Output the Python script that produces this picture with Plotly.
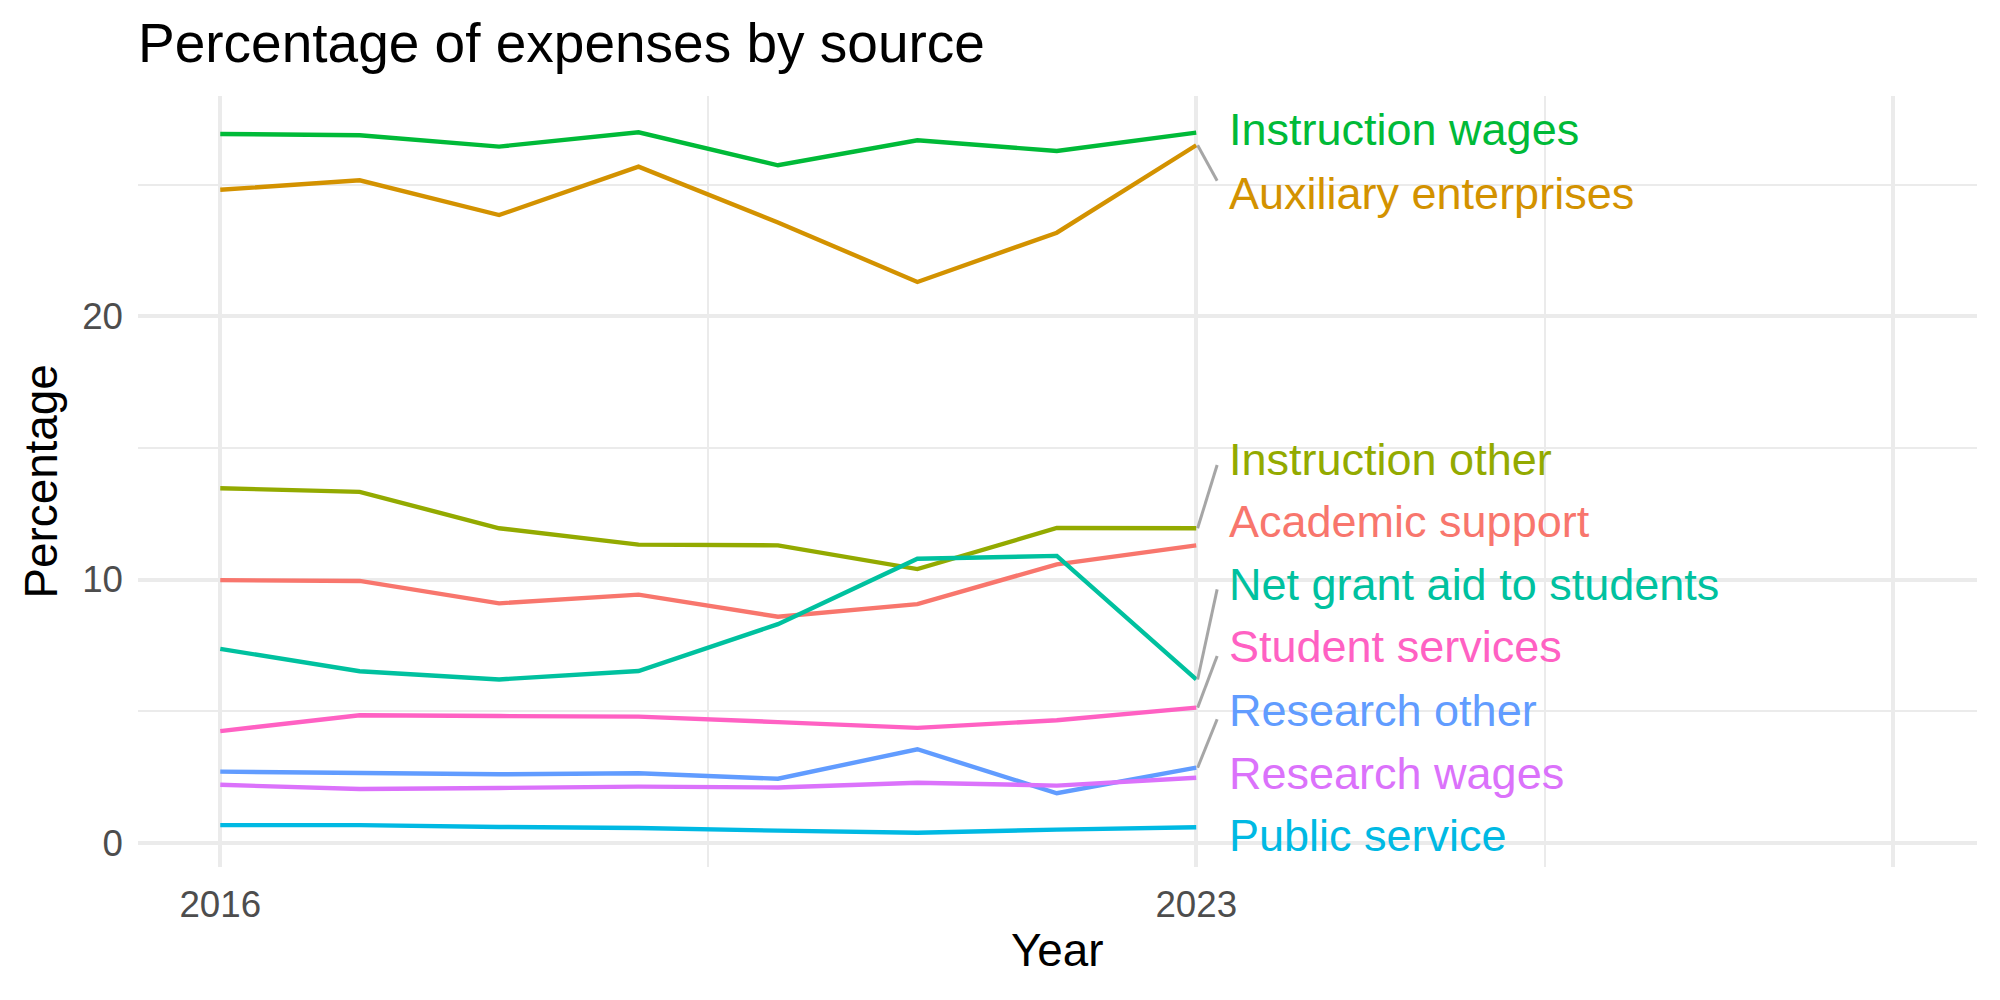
import plotly.graph_objects as go

years = [2016, 2017, 2018, 2019, 2020, 2021, 2022, 2023]

series_names = [
    "Instruction wages", "Auxiliary enterprises", "Instruction other",
    "Academic support", "Net grant aid to students", "Student services",
    "Research other", "Research wages", "Public service",
]
instruction_wages = [26.92, 26.87, 26.44, 26.98, 25.73, 26.68, 26.27, 26.97]
auxiliary_enterprises = [24.80, 25.16, 23.84, 25.68, 23.56, 21.30, 23.17, 26.49]
instruction_other = [13.47, 13.33, 11.95, 11.33, 11.30, 10.40, 11.96, 11.95]
academic_support = [9.98, 9.95, 9.10, 9.43, 8.59, 9.07, 10.58, 11.30]
net_grant_aid = [7.37, 6.52, 6.21, 6.53, 8.31, 10.79, 10.90, 6.21]
student_services = [4.25, 4.85, 4.82, 4.80, 4.59, 4.37, 4.66, 5.14]
research_other = [2.71, 2.68, 2.61, 2.65, 2.44, 3.56, 1.89, 2.86]
research_wages = [2.21, 2.05, 2.09, 2.14, 2.11, 2.29, 2.18, 2.48]
public_service = [0.68, 0.68, 0.61, 0.57, 0.47, 0.39, 0.51, 0.60]

series_values = [
    instruction_wages, auxiliary_enterprises, instruction_other,
    academic_support, net_grant_aid, student_services,
    research_other, research_wages, public_service,
]
series_colors = [
    "#00BA38", "#D39200", "#93AA00", "#F8766D", "#00C19F",
    "#FF61C3", "#619CFF", "#DB72FB", "#00B9E3",
]

# repelled label positions (y, data units) and connector end y (None = no connector)
label_y = [27.08, 24.67, 14.57, 12.20, 9.81, 7.45, 5.04, 2.65, 0.27]
connector_end_y = [None, 25.14, 14.35, None, 9.63, 7.10, 4.70, None, None]
label_x = 2023.22
connector_end_x = 2023.15

x_tick_vals = [2016, 2023, 2028]
x_tick_text = ["2016", "2023", ""]
x_minor_vals = [2019.5, 2025.5]
y_tick_vals = [0, 10, 20]
y_tick_text = ["0", "10", "20"]
y_minor_vals = [5, 15, 25]

FONT = "Liberation Sans, Arial, Helvetica, sans-serif"

fig = go.Figure()

for name, vals, col in zip(series_names, series_values, series_colors):
    fig.add_trace(go.Scatter(
        x=years, y=vals, mode="lines", name=name,
        line=dict(color=col, width=4.4), showlegend=False,
        hoverinfo="skip",
    ))

# connector segments
for vals, ey in zip(series_values, connector_end_y):
    if ey is None:
        continue
    fig.add_trace(go.Scatter(
        x=[years[-1] + 0.01, connector_end_x], y=[vals[-1], ey], mode="lines",
        line=dict(color="#A6A6A6", width=3), showlegend=False, hoverinfo="skip",
    ))

for name, ly, col in zip(series_names, label_y, series_colors):
    fig.add_annotation(
        x=label_x, y=ly, xref="x", yref="y", text=name, showarrow=False,
        xanchor="left", yanchor="middle",
        font=dict(family=FONT, size=45, color=col),
    )

# axis titles
fig.add_annotation(
    x=0.5, y=-(950 - 867) / 771, xref="paper", yref="paper", text="Year",
    showarrow=False, xanchor="center", yanchor="middle",
    font=dict(family=FONT, size=45.8, color="#000000"),
)
fig.add_annotation(
    x=-(138 - 41) / 1839, y=0.5, xref="paper", yref="paper", text="Percentage",
    showarrow=False, xanchor="center", yanchor="middle", textangle=-90,
    font=dict(family=FONT, size=45.8, color="#000000"),
)

fig.update_layout(
    width=2000, height=1000,
    margin=dict(l=138, r=23, t=96, b=133, pad=0),
    paper_bgcolor="white", plot_bgcolor="white",
    font=dict(family=FONT),
    title=dict(
        text="Percentage of expenses by source",
        x=0.0, xref="paper", xanchor="left",
        y=1 - 43 / 1000, yref="container", yanchor="middle",
        font=dict(family=FONT, size=55, color="#000000"),
    ),
    xaxis=dict(
        range=[2015.41, 2028.6], tickmode="array", tickvals=x_tick_vals,
        ticktext=x_tick_text, showgrid=True, gridcolor="#EBEBEB", gridwidth=4.4,
        zeroline=False, showline=False, ticks="",
        tickfont=dict(family=FONT, size=36.7, color="#4D4D4D"),
        ticklabelstandoff=12,
        minor=dict(tickmode="array", tickvals=x_minor_vals, showgrid=True,
                   gridcolor="#EBEBEB", gridwidth=2.2, ticks=""),
    ),
    yaxis=dict(
        range=[-0.91, 28.36], tickmode="array", tickvals=y_tick_vals,
        ticktext=y_tick_text, showgrid=True, gridcolor="#EBEBEB", gridwidth=4.4,
        zeroline=False, showline=False, ticks="",
        tickfont=dict(family=FONT, size=36.7, color="#4D4D4D"),
        ticklabelstandoff=14,
        minor=dict(tickmode="array", tickvals=y_minor_vals, showgrid=True,
                   gridcolor="#EBEBEB", gridwidth=2.2, ticks=""),
    ),
)

fig.write_html("out.html")
